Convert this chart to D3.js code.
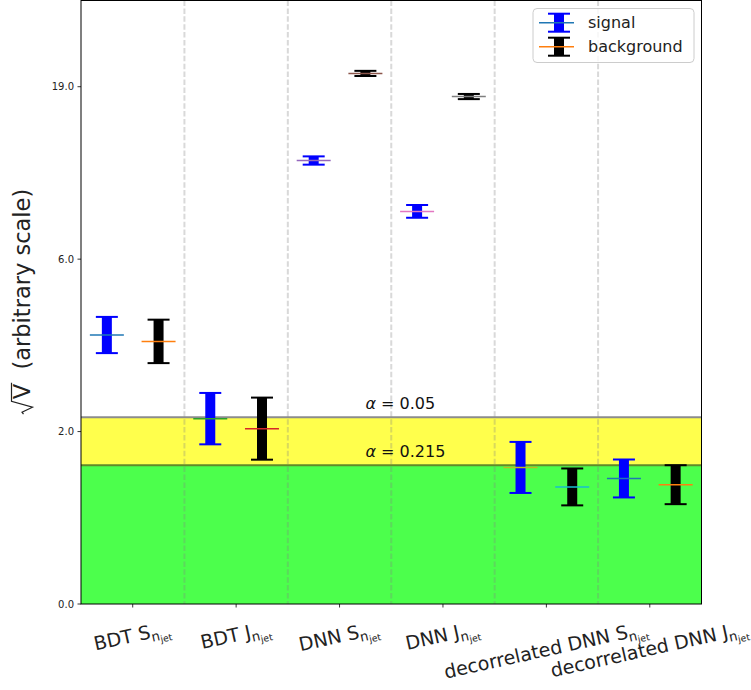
<!DOCTYPE html>
<html>
<head>
<meta charset="utf-8">
<script src="https://cdn.jsdelivr.net/npm/d3@7"></script>
<style>
  html, body { margin: 0; padding: 0; background: #fff; }
  svg { display: block; font-family: "DejaVu Sans", sans-serif; }
</style>
</head>
<body>
<svg id="chart" width="751" height="690"></svg>
<script>
// ---------------- data ----------------
const catPrefix = ["BDT", "BDT", "DNN", "DNN", "decorrelated DNN", "decorrelated DNN"];
const catSymbol = ["S", "J", "S", "J", "S", "J"];
const signalValue = [1.560, 1.075, 2.572, 2.277, 0.792, 0.728];
const signalErr   = [0.105, 0.149, 0.024, 0.037, 0.148, 0.110];
const backgroundValue = [1.523, 1.017, 3.077, 2.943, 0.679, 0.692];
const backgroundErr   = [0.126, 0.180, 0.015, 0.015, 0.107, 0.113];
const yTickPos = [0, 1, 2, 3];
const yTickLabels = ["0.0", "2.0", "6.0", "19.0"];
const alphaLevels = ["0.05", "0.215"];
const alphaThresholds = [1.083, 0.805];
const seriesNames = ["signal", "background"];
const cycle = ["#1f77b4","#ff7f0e","#2ca02c","#d62728","#9467bd","#8c564b","#e377c2","#7f7f7f","#bcbd22","#17becf"];

// ---------------- layout ----------------
const svg = d3.select("#chart");
const L = 81, R = 701.5, T = 0.5, B = 604;
const x = d3.scaleLinear().domain([-0.5, 5.5]).range([L, R]);
const y = d3.scaleLinear().domain([0, 3.5]).range([B, T]);
const offset = 0.25;

// bands
svg.append("rect").attr("x", L).attr("width", R - L)
  .attr("y", y(alphaThresholds[1])).attr("height", y(0) - y(alphaThresholds[1]))
  .attr("fill", "lime").attr("fill-opacity", 0.7);
svg.append("rect").attr("x", L).attr("width", R - L)
  .attr("y", y(alphaThresholds[0])).attr("height", y(alphaThresholds[1]) - y(alphaThresholds[0]))
  .attr("fill", "yellow").attr("fill-opacity", 0.7);

// threshold lines
svg.append("line").attr("x1", L).attr("x2", R)
  .attr("y1", y(alphaThresholds[0])).attr("y2", y(alphaThresholds[0]))
  .attr("stroke", "#8c8c8c").attr("stroke-width", 2);
svg.append("line").attr("x1", L).attr("x2", R)
  .attr("y1", y(alphaThresholds[1])).attr("y2", y(alphaThresholds[1]))
  .attr("stroke", "#5f8a2a").attr("stroke-width", 2);

// separators
d3.range(catPrefix.length - 1).forEach(i => {
  svg.append("line").attr("x1", x(i + 0.5)).attr("x2", x(i + 0.5))
    .attr("y1", T).attr("y2", B)
    .attr("stroke", "#808080").attr("stroke-opacity", 0.3)
    .attr("stroke-width", 2).attr("stroke-dasharray", "5.5,2.4");
});

// alpha texts
alphaLevels.forEach((a, i) => {
  const t = svg.append("text").attr("x", x(2.25)).attr("y", y(alphaThresholds[i] + 0.05))
    .attr("font-size", 16).attr("fill", "#111");
  t.append("tspan").attr("font-style", "italic").text("α");
  t.append("tspan").text(" = " + a);
});

// error bars
function errorbar(g, cx, cy, err, barColor, lineColor) {
  const y1 = y(cy + err), y2 = y(cy - err);
  g.append("line").attr("x1", cx).attr("x2", cx).attr("y1", y1).attr("y2", y2)
    .attr("stroke", barColor).attr("stroke-width", 10);
  [y1, y2].forEach(yy => g.append("line").attr("x1", cx - 11).attr("x2", cx + 11)
    .attr("y1", yy).attr("y2", yy).attr("stroke", barColor).attr("stroke-width", 2));
  g.append("line").attr("x1", cx - 17).attr("x2", cx + 17).attr("y1", y(cy)).attr("y2", y(cy))
    .attr("stroke", lineColor).attr("stroke-width", 1.5);
}
const gBars = svg.append("g");
catPrefix.forEach((c, i) => {
  errorbar(gBars, x(i - offset), signalValue[i], signalErr[i], "blue", cycle[(2 * i) % 10]);
  errorbar(gBars, x(i + offset), backgroundValue[i], backgroundErr[i], "black", cycle[(2 * i + 1) % 10]);
});

// spines
svg.append("rect").attr("x", L).attr("y", T).attr("width", R - L).attr("height", B - T)
  .attr("fill", "none").attr("stroke", "#000").attr("stroke-width", 1);

// y ticks
yTickPos.forEach((p, i) => {
  svg.append("line").attr("x1", L - 3.5).attr("x2", L).attr("y1", y(p)).attr("y2", y(p))
    .attr("stroke", "#000").attr("stroke-width", 0.8);
  svg.append("text").attr("x", L - 7).attr("y", y(p)).attr("text-anchor", "end")
    .attr("dominant-baseline", "central").attr("font-size", 10).attr("fill", "#222")
    .text(yTickLabels[i]);
});

// x ticks
const rotDeg = 12.5;
const ang = rotDeg * Math.PI / 180;
catPrefix.forEach((c, i) => {
  const tx = x(i);
  svg.append("line").attr("x1", tx).attr("x2", tx).attr("y1", B).attr("y2", B + 3.5)
    .attr("stroke", "#000").attr("stroke-width", 0.8);
  const t = svg.append("text").attr("font-size", 19).attr("fill", "#222");
  t.append("tspan").text(c + " " + catSymbol[i]);
  t.append("tspan").attr("font-size", 13.3).attr("dy", 3.7).text("n");
  t.append("tspan").attr("font-size", 9.3).attr("dy", 2.7).text("jet");
  const b = t.node().getBBox();
  const H = b.width * Math.sin(ang) + b.height * Math.cos(ang);
  const top = B + 12;
  t.attr("transform", `translate(${tx},${top + H / 2}) rotate(${-rotDeg}) translate(${-(b.x + b.width / 2)},${-(b.y + b.height / 2)})`);
});

// y label
const gy = svg.append("g").attr("transform", `translate(30,309) rotate(-90)`);
const yl = gy.append("text").attr("font-size", 22.5).attr("fill", "#222")
  .attr("text-anchor", "middle").style("white-space", "pre");
yl.append("tspan").attr("dx", 15).text("V");
yl.append("tspan").text("  (arbitrary scale)");
{
  const e = yl.node().getExtentOfChar(0);
  const vx0 = e.x, vx1 = e.x + e.width;
  const top = -18.5;
  gy.append("path")
    .attr("d", `M${vx0 - 15},-6.5 L${vx0 - 13},-8 L${vx0 - 8},2.5 L${vx0 - 2},${top} L${vx1 + 1},${top}`)
    .attr("fill", "none").attr("stroke", "#222").attr("stroke-width", 1.2);
}

// legend
const lg = svg.append("g");
lg.append("rect").attr("x", 533).attr("y", 8.5).attr("width", 161).attr("height", 54).attr("rx", 4)
  .attr("fill", "#fff").attr("fill-opacity", 0.8).attr("stroke", "#cccccc").attr("stroke-width", 1);
const legY = [22.7, 46.7];
seriesNames.forEach((s, i) => {
  const cx = 559, cy = legY[i];
  const barC = i === 0 ? "blue" : "black";
  const lineC = cycle[i];
  lg.append("line").attr("x1", cx).attr("x2", cx).attr("y1", cy - 9).attr("y2", cy + 9)
    .attr("stroke", barC).attr("stroke-width", 10);
  [cy - 9, cy + 9].forEach(yy => lg.append("line").attr("x1", cx - 11).attr("x2", cx + 11)
    .attr("y1", yy).attr("y2", yy).attr("stroke", barC).attr("stroke-width", 2));
  lg.append("line").attr("x1", cx - 20).attr("x2", cx + 15).attr("y1", cy).attr("y2", cy)
    .attr("stroke", lineC).attr("stroke-width", 1.5);
  lg.append("text").attr("x", 588).attr("y", cy).attr("dominant-baseline", "central")
    .attr("font-size", 16).attr("fill", "#222").text(s);
});
</script>
</body>
</html>
